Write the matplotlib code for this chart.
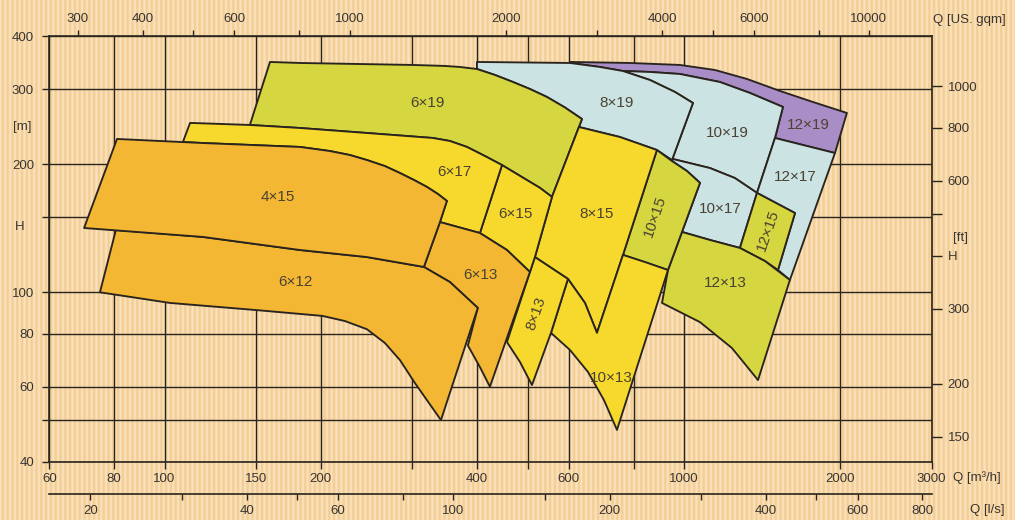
import numpy as np
import matplotlib
matplotlib.use("Agg")
import matplotlib.pyplot as plt
from matplotlib.patches import Polygon
from matplotlib.ticker import FixedLocator, NullFormatter

plt.rcParams['font.family'] = ['Liberation Sans', 'DejaVu Sans']

# ---------------------------------------------------------------------------
# Operating fields of each pump size, outlines as (Q [m³/h], H [m]) vertices
# ---------------------------------------------------------------------------
field_6x19 = [(159.6, 347.6), (182.3, 345.7), (300.8, 342.0), (346.6, 340.2), (370.5, 338.3),
              (399.5, 334.6), (432.6, 324.0), (468.7, 311.9), (505.3, 300.3), (545.0, 287.6),
              (590.2, 271.7), (636.4, 255.3), (557.2, 167.5), (528.3, 175.9), (446.5, 199.0),
              (417.6, 207.8), (399.5, 213.6), (382.2, 219.5), (354.4, 226.7), (328.7, 230.4),
              (245.3, 236.7), (182.3, 243.2), (146.0, 247.2)]
field_8x19 = [(399.5, 347.6), (603.5, 345.7), (689.2, 338.3), (763.3, 331.0), (860.3, 315.3),
              (961.3, 295.5), (1041, 278.4), (948.6, 204.5), (887.3, 215.9), (753.2, 231.6),
              (628.0, 244.5), (636.4, 255.3), (590.2, 271.7), (545.0, 287.6), (505.3, 300.3),
              (468.7, 311.9), (432.6, 324.0), (399.5, 334.6)]
field_10x19 = [(763.3, 331.0), (860.3, 329.3), (982.8, 325.7), (1173, 311.9), (1340.5, 293.9),
               (1551.5, 272.5), (1497.6, 230.4), (1382.8, 171.2), (1253.9, 185.5), (1122.7, 195.8),
               (953, 205.6), (948.6, 204.5), (1041, 278.4), (961.3, 295.5), (860.3, 315.3)]
field_12x19 = [(603.5, 347.6), (787.4, 345.7), (982.8, 342.0), (1147.8, 332.8), (1322.9, 317.0),
               (1531, 297.1), (1772.2, 279.9), (2060, 263.8), (1953.7, 212.4), (1497.6, 230.4),
               (1551.5, 272.5), (1340.5, 293.9), (1173, 311.9), (982.8, 325.7), (860.3, 329.3),
               (763.3, 331.0), (689.2, 338.3), (603.5, 345.7)]
field_12x17 = [(1497.6, 230.4), (1953.7, 212.4), (1600, 106.9), (1517.5, 112.8), (1636.6, 153.5),
               (1382.8, 171.2)]
field_10x17 = [(953, 205.6), (1122.7, 195.8), (1253.9, 185.5), (1382.8, 171.2), (1282, 127.1),
               (1122.7, 132.7), (991.6, 138.6), (1074, 180.7), (1013.8, 192.7), (948.6, 203.4)]
field_12x15 = [(1382.8, 171.2), (1636.6, 153.5), (1517.5, 112.8), (1432.6, 118.4), (1282, 127.1)]
field_12x13 = [(991.6, 138.6), (1122.7, 132.7), (1282, 127.1), (1432.6, 118.4), (1600, 106.9),
               (1389, 62.2), (1237, 74.0), (1074, 85.1), (907.5, 94.4), (931.9, 112.8)]
field_10x15 = [(887.3, 215.9), (948.6, 203.4), (1013.8, 192.7), (1074, 180.7), (931.9, 112.8),
               (763.3, 122.4)]
field_8x15 = [(628.0, 244.5), (753.2, 231.6), (887.3, 215.9), (763.3, 122.4), (680.2, 80.3),
              (645, 94.4), (598.1, 107.5), (516.6, 121.0), (557.2, 167.5)]
field_10x13 = [(598.1, 107.5), (645, 94.4), (680.2, 80.3), (763.3, 122.4), (841.4, 117.8),
               (931.9, 112.8), (743.3, 47.5), (701.7, 55.8), (653.6, 65.0), (603.5, 73.2),
               (554.7, 80.3)]
field_8x13 = [(516.6, 121.0), (598.1, 107.5), (554.7, 80.3), (509.9, 60.55), (483.5, 68.6),
              (456.4, 76.4), (505.3, 111.6)]
field_6x15 = [(446.5, 199.0), (528.3, 175.9), (557.2, 167.5), (516.6, 121.0), (505.3, 111.6),
              (456.4, 125.7), (404.8, 137.8)]
field_6x17 = [(112, 250), (146, 247.2), (182.3, 243.2), (245.3, 236.7), (328.7, 230.4),
              (354.4, 226.7), (382.2, 219.5), (399.5, 213.6), (417.6, 207.8), (446.5, 199.0),
              (404.8, 137.8), (339.1, 146.2), (349.7, 163.9), (336.0, 170.2), (320.1, 176.8),
              (302.1, 183.6), (284, 190.6), (265.7, 197.9), (245.3, 204.5), (227.5, 210.1),
              (208.2, 214.7), (182.3, 219.5), (118.6, 224.2), (108.5, 225.5)]
field_4x15 = [(81.0, 229.2), (118.6, 224.2), (182.3, 219.5), (208.2, 214.7), (227.5, 210.1),
              (245.3, 204.5), (265.7, 197.9), (284, 190.6), (302.1, 183.6), (320.1, 176.8),
              (336.0, 170.2), (349.7, 163.9), (339.1, 146.2), (315.8, 114.7), (245.3, 121.0),
              (182.3, 125.7), (118.6, 134.9), (70.0, 141.6)]
field_6x12 = [(80.6, 140.1), (75.1, 100), (102.5, 94.4), (150.7, 90.8), (201.5, 88.0),
              (222.5, 85.6), (245.3, 81.9), (265.7, 76.0), (284, 69.3), (303.5, 61.2),
              (340.6, 50.1), (401, 91.9), (354.4, 105.7), (315.8, 114.7), (245.3, 121.0),
              (182.3, 125.7), (118.6, 134.9)]
field_6x13 = [(339.1, 146.2), (404.8, 137.8), (456.4, 125.7), (505.3, 111.6), (423.2, 60.0),
              (404.8, 66.75), (383.8, 75.0), (401, 91.9), (354.4, 105.7), (315.8, 114.7)]

# Axis ticks
q_major = [60, 80, 100, 150, 200, 400, 600, 1000, 2000, 3000]
q_minor = [300, 500, 800]
h_major = [40, 60, 80, 100, 200, 300, 400]
h_minor = [50, 150]
gpm_major = [300, 400, 600, 1000, 2000, 4000, 6000, 10000]
gpm_minor = [500, 800, 3000, 5000, 8000]
ft_major = [150, 200, 300, 400, 600, 800, 1000]
ft_labels = ['150', '200', '300', 'H', '600', '800', '1000']
ft_minor = [500]
ls_major = [20, 40, 60, 100, 200, 400, 600, 800]
ls_minor = [30, 50, 80, 150, 300, 500]

# ---------------------------------------------------------------------------
ORANGE = '#F4B733'
YELLOW = '#F7D92E'
OLIVE = '#D5D640'
BLUE = '#CCE3E3'
PURPLE = '#A98DC6'
INK = '#2a241e'
TXT = '#3a3530'

fields = [
    ('12×19', field_12x19, PURPLE), ('10×19', field_10x19, BLUE), ('8×19', field_8x19, BLUE),
    ('6×19', field_6x19, OLIVE), ('12×17', field_12x17, BLUE), ('10×17', field_10x17, BLUE),
    ('12×15', field_12x15, OLIVE), ('12×13', field_12x13, OLIVE), ('10×15', field_10x15, OLIVE),
    ('8×15', field_8x15, YELLOW), ('10×13', field_10x13, YELLOW), ('8×13', field_8x13, YELLOW),
    ('6×15', field_6x15, YELLOW), ('6×17', field_6x17, YELLOW), ('6×13', field_6x13, ORANGE),
    ('6×12', field_6x12, ORANGE), ('4×15', field_4x15, ORANGE),
]

# label anchor (Q, H) and text rotation
label_spots = {
    '6×19': (321, 278, 0), '8×19': (743, 278, 0), '10×19': (1210, 237, 0),
    '12×19': (1733, 247, 0), '6×17': (362, 192, 0), '12×17': (1637, 187, 0),
    '4×15': (165, 167, 0), '6×15': (473, 153, 0), '8×15': (680, 153, 0),
    '10×15': (880, 151, 71), '10×17': (1173, 157, 0), '12×15': (1452, 140, 71),
    '6×13': (405, 110, 0), '6×12': (179, 106, 0), '12×13': (1200, 105, 0),
    '8×13': (519, 89, 71), '10×13': (724, 63, 0),
}

W, HP = 1015, 520
fig = plt.figure(figsize=(W / 100, HP / 100), dpi=100)

# striped paper background
cols = np.arange(W)
s = 0.5 + 0.5 * np.cos(2 * np.pi * cols / 4.8)
light = np.array([249, 226, 190]) / 255
dark = np.array([244, 205, 146]) / 255
row = dark[None, :] + (light - dark)[None, :] * s[:, None]
paper = np.repeat(row[None, :, :], HP, axis=0)
fig.figimage(paper, 0, 0, zorder=-10)

L, R, T, B = 49.3, 931.7, 36.0, 461.7
ax = fig.add_axes([L / W, 1 - B / HP, (R - L) / W, (B - T) / HP])
ax.patch.set_alpha(0)
ax.set_xscale('log')
ax.set_yscale('log')
ax.set_xlim(60, 3000)
ax.set_ylim(40, 400)

for name, pts, col in fields:
    ax.add_patch(Polygon(pts, closed=True, facecolor=col, edgecolor=INK, lw=1.35,
                         joinstyle='round', zorder=2))
    q, h, rot = label_spots[name]
    ax.text(q, h, name, ha='center', va='center', rotation=rot, fontsize=11,
            color='#4a4232', zorder=3)

# main axes ticks / grid
ax.xaxis.set_major_locator(FixedLocator(q_major))
ax.xaxis.set_minor_locator(FixedLocator(q_minor))
ax.set_xticklabels([str(v) for v in q_major])
ax.xaxis.set_minor_formatter(NullFormatter())
ax.yaxis.set_major_locator(FixedLocator(h_major))
ax.yaxis.set_minor_locator(FixedLocator(h_minor))
ax.set_yticklabels([str(v) for v in h_major])
ax.yaxis.set_minor_formatter(NullFormatter())
ax.set_axisbelow(True)
ax.grid(which='both', color=INK, lw=1.0)
ax.tick_params(which='both', direction='out', length=5, width=1.0, color=INK,
               labelsize=9.5, labelcolor=TXT)
ax.tick_params(axis='x', pad=3)
ax.tick_params(axis='y', pad=6)
for sp in ax.spines.values():
    sp.set_color(INK)
    sp.set_linewidth(1.2)

# US gpm scale on top
top = ax.secondary_xaxis('top', functions=(lambda q: q * 4.40287, lambda g: g / 4.40287))
top.xaxis.set_major_locator(FixedLocator(gpm_major))
top.set_xticklabels([str(v) for v in gpm_major])
top.xaxis.set_minor_locator(FixedLocator(gpm_minor))
top.xaxis.set_minor_formatter(NullFormatter())
top.tick_params(which='both', direction='out', length=4, width=1.0, color=INK,
                labelsize=9.5, labelcolor=TXT, pad=4)
top.spines['top'].set_visible(False)

# feet scale on the right
rgt = ax.secondary_yaxis('right', functions=(lambda m: m * 3.28084, lambda f: f / 3.28084))
rgt.yaxis.set_major_locator(FixedLocator(ft_major))
rgt.set_yticklabels(ft_labels)
rgt.yaxis.set_minor_locator(FixedLocator(ft_minor))
rgt.yaxis.set_minor_formatter(NullFormatter())
rgt.tick_params(which='both', direction='out', length=7, width=1.0, color=INK,
                labelsize=9.5, labelcolor=TXT, pad=4.5)
rgt.spines['right'].set_visible(False)

# litres per second scale below
ls = ax.secondary_xaxis(-(494 - B) / (B - T), functions=(lambda q: q / 3.6, lambda l: l * 3.6))
ls.xaxis.set_major_locator(FixedLocator(ls_major))
ls.set_xticklabels([str(v) for v in ls_major])
ls.xaxis.set_minor_locator(FixedLocator(ls_minor))
ls.xaxis.set_minor_formatter(NullFormatter())
ls.tick_params(which='both', direction='out', length=4, width=1.0, color=INK,
               labelsize=9.5, labelcolor=TXT, pad=4)
for sp in ls.spines.values():
    sp.set_color(INK)
    sp.set_linewidth(1.2)


def ftxt(x, y, s, **kw):
    fig.text(x / W, 1 - y / HP, s, fontsize=9.5, color=TXT, va='center', **kw)


ftxt(22, 127, '[m]', ha='center')
ftxt(20, 227, 'H', ha='center')
ftxt(961, 238, '[ft]', ha='center')
ftxt(933, 20, 'Q [US. gqm]', ha='left')
ftxt(953, 478, 'Q [m³/h]', ha='left')
ftxt(970, 510, 'Q [l/s]', ha='left')

fig.savefig('out.png', dpi=100)
